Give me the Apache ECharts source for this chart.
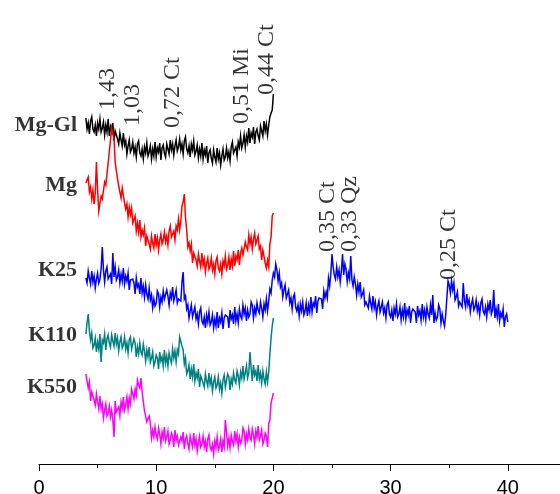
<!DOCTYPE html>
<html><head><meta charset="utf-8">
<script src="https://cdn.jsdelivr.net/npm/echarts@6/dist/echarts.min.js"></script>
<style>html,body{margin:0;padding:0;background:#fff}#c{width:560px;height:494px}</style>
</head><body><div id="c"></div>
<script>
// XRD patterns, 2θ from 4° in steps of 0.1°
const twoThetaStart = 4.0;
const twoThetaStep = 0.1;
const seriesNames = ['Mg-Gl', 'Mg', 'K25', 'K110', 'K550'];
const seriesColors = ['#000000', '#ff0000', '#0000ff', '#008080', '#ff00ff'];
const seriesOffsets = [300, 190, 130, 70, 0];

const mgGl = [
 46,35,41,30,43,47,35,32,39,28,
 41,35,45,32,36,42,29,39,32,45,
 28,37,32,41,23,33,35,25,20,31,
 24,18,31,19,23,10,18,24,12,15,
 22,11,17,7,20,23,11,8,15,5,
 17,11,21,8,12,18,5,15,8,22,
 7,16,12,21,4,16,19,11,7,20,
 15,10,24,14,20,9,18,24,13,17,
 25,14,20,10,23,27,15,11,18,7,
 20,14,23,9,13,19,6,15,8,21,
 5,14,9,18,1,11,14,6,1,14,
 7,2,16,5,11,-1,8,15,4,7,
 16,6,12,3,17,22,11,9,17,8,
 22,17,28,16,21,29,17,28,22,36,
 21,31,27,37,20,32,35,28,24,38,
 33,28,43,33,40,29,39,47,51,54,
 70];

const mg = [
 91,93,97,82,87,75,84,70,81,112,
 84,63,71,78,75,75,92,89,87,111,
 112,134,146,140,136,112,103,105,88,90,
 76,86,86,71,65,70,57,67,59,66,
 51,53,58,43,51,42,54,37,44,39,
 46,28,38,39,30,25,38,31,26,40,
 29,36,24,34,40,30,34,42,32,38,
 29,43,48,37,35,43,34,48,44,55,
 44,53,68,72,80,56,44,27,31,23,
 30,11,21,23,14,8,20,13,7,21,
 9,15,2,11,16,5,8,16,4,10,
 0,13,17,6,3,10,0,13,8,18,
 5,9,17,4,15,8,23,8,18,14,
 24,9,21,26,19,17,32,27,24,39,
 30,37,25,35,41,30,32,38,25,28,
 14,24,25,11,6,14,7,30,37,58,
 61];

const k25 = [
 56,51,63,56,50,63,52,58,46,55,
 61,51,55,65,87,64,52,63,67,55,
 53,60,50,81,57,67,54,57,64,51,
 60,53,66,50,58,53,61,44,54,56,
 55,51,40,56,47,50,40,56,41,48,
 37,49,40,35,46,34,39,26,35,28,
 31,43,40,27,37,32,43,35,33,44,
 38,29,41,36,47,33,38,44,31,35,
 35,33,52,62,35,38,25,29,16,23,
 29,17,19,27,15,20,10,22,26,13,
 10,17,6,19,12,22,9,12,19,6,
 15,8,22,6,16,12,21,5,16,19,
 20,17,6,24,15,19,10,27,13,20,
 11,25,18,15,29,20,26,13,24,17,
 20,32,29,16,26,20,31,24,21,32,
 26,17,30,24,35,23,33,45,41,54,
 61,57,70,64,53,61,47,51,37,44,
 49,36,38,44,31,36,25,37,40,27,
 23,29,18,30,23,32,19,23,31,18,
 29,22,37,22,31,28,38,21,33,36,
 37,35,25,43,36,42,36,56,48,60,
 80,67,59,55,67,57,64,52,63,80,
 59,70,65,52,61,55,78,54,48,57,
 50,39,50,42,52,37,40,44,29,32,
 31,26,38,31,25,38,26,32,19,28,
 33,22,24,32,21,26,16,29,32,20,
 17,24,13,26,20,30,17,20,27,14,
 24,17,31,15,24,19,28,11,22,25,
 25,22,11,28,19,23,14,30,17,24,
 14,27,20,16,29,19,39,11,21,14,
 17,29,25,11,20,13,8,19,36,53,
 49,41,53,44,51,34,37,42,28,32,
 31,27,51,33,27,40,29,34,22,30,
 35,24,27,34,23,29,19,31,35,23,
 20,27,17,30,24,34,20,24,44,16,
 25,17,30,13,21,17,25,7,17,20,
 12];

const k110 = [
 60,71,80,63,54,61,46,49,56,42,
 52,45,60,32,54,51,60,44,55,59,
 51,47,59,53,48,61,50,56,43,52,
 57,46,49,57,45,51,41,54,57,45,
 43,55,51,37,47,40,51,42,39,50,
 43,33,44,37,47,32,36,42,28,32,
 39,36,25,42,33,37,28,44,31,38,
 28,41,35,31,45,36,43,32,44,40,
 57,55,48,44,30,36,20,23,29,15,
 25,17,30,13,21,16,25,7,18,20,
 11,7,20,13,8,21,10,16,3,12,
 17,6,9,17,5,11,1,14,19,7,
 8,20,17,4,15,10,21,14,11,23,
 18,9,22,16,28,15,21,28,16,21,
 42,26,13,29,19,23,13,29,15,21,
 11,23,15,10,22,12,22,40,56,68,
 76];

const k550 = [
 90,83,76,82,63,72,73,64,59,70,
 62,55,68,55,60,46,54,60,48,51,
 58,47,54,44,27,63,52,50,57,48,
 62,56,67,54,59,67,55,66,60,75,
 76,65,75,69,84,79,76,86,72,73,
 53,55,42,41,48,41,26,34,27,37,
 29,25,36,30,20,32,26,37,23,27,
 33,20,24,31,28,17,34,24,28,19,
 18,27,23,32,15,25,28,20,15,28,
 22,17,31,19,25,13,22,28,17,20,
 28,17,23,12,25,29,17,14,20,10,
 23,17,27,14,18,25,12,23,17,44,
 32,18,26,16,29,23,19,33,23,30,
 17,27,21,24,36,33,20,30,24,35,
 27,24,35,29,20,33,27,38,24,28,
 34,20,24,31,28,17,40,44,61,60,
 71];

const seriesData = [mgGl, mg, k25, k110, k550];

// peak annotations (d-spacing, nm) at 2θ position and plot height
const peakLabels = ['1,43', '1,03', '0,72 Ct', '0,51 Mi', '0,44 Ct', '0,35 Ct', '0,33 Qz', '0,25 Ct'];
const peakTwoTheta = [5.86, 8.0, 11.4, 17.3, 19.45, 24.6, 26.5, 35.0];
const peakLabelLevel = [354, 338, 336, 340, 369, 212, 212, 184];

// series name label placement (2θ, plot height)
const nameLabelTwoTheta = 3.25;
const nameLabelLevel = [339, 279, 194, 129, 77];

const xTickInterval = 10;

const chart = echarts.init(document.getElementById('c'), null, {renderer: 'canvas'});

const lineSeries = seriesData.map((arr, s) => ({
  type: 'line',
  name: seriesNames[s],
  data: arr.map((v, i) => [+(twoThetaStart + i * twoThetaStep).toFixed(2), v + seriesOffsets[s]]),
  showSymbol: false,
  symbol: 'none',
  lineStyle: {color: seriesColors[s], width: 1.5, join: 'miter'},
  itemStyle: {color: seriesColors[s]},
  silent: true,
  animation: false
}));

const nameSeries = {
  type: 'scatter',
  symbolSize: 0,
  silent: true,
  data: seriesNames.map((n, i) => ({name: n, value: [nameLabelTwoTheta, nameLabelLevel[i]]})),
  label: {
    show: true,
    position: 'left',
    distance: 0,
    formatter: p => p.name,
    color: '#000',
    fontFamily: '"Liberation Serif", "Times New Roman", serif',
    fontWeight: 'bold',
    fontSize: 22
  }
};

const peakSeries = {
  type: 'scatter',
  symbolSize: 0,
  silent: true,
  data: peakLabels.map((t, i) => ({name: t, value: [peakTwoTheta[i], peakLabelLevel[i]]})),
  label: {
    show: true,
    position: 'inside',
    rotate: 90,
    align: 'left',
    verticalAlign: 'middle',
    formatter: p => p.name,
    color: '#000',
    fontFamily: '"Liberation Serif", "Times New Roman", serif',
    fontSize: 24
  }
};

chart.setOption({
  animation: false,
  backgroundColor: '#fff',
  grid: {left: 39, width: 586, top: 0, bottom: 30, containLabel: false, outerBoundsMode: 'none'},
  xAxis: {
    type: 'value',
    min: 0,
    max: 50,
    interval: xTickInterval,
    splitLine: {show: false},
    axisLine: {show: true, onZero: false, lineStyle: {color: '#000', width: 1}},
    axisTick: {show: true, inside: false, length: 7, lineStyle: {color: '#000', width: 1}},
    minorTick: {show: true, splitNumber: 2, length: 4, lineStyle: {color: '#000', width: 1}},
    axisLabel: {color: '#000', fontSize: 20, margin: 14, fontFamily: '"Liberation Sans", Arial, sans-serif'}
  },
  yAxis: {
    type: 'value',
    min: 0,
    max: 464,
    show: false,
    splitLine: {show: false}
  },
  series: [...lineSeries, nameSeries, peakSeries]
});
</script>
</body></html>
